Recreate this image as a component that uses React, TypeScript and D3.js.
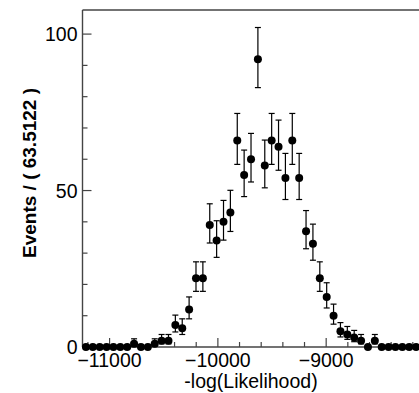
import React from "react";
import * as d3 from "d3";

const binLow = -11250;
const binWidth = 63.5122;
const counts = [
  0, 0, 0, 0, 0, 0, 0, 1, 0, 0,
  1, 2, 2, 7, 6, 12, 22, 22, 39, 34,
  40, 43, 66, 55, 60, 92, 58, 66, 64, 54,
  66, 54, 37, 33, 22, 16, 10, 5, 4, 3,
  2, 0, 2, 0, 0, 0, 0, 0, 0, 0,
];
const xMajorTicks = [-11000, -10000, -9000];
const yMajorTicks = [0, 50, 100];
const yMax = 107.7;
const xTitle = "-log(Likelihood)";
const yTitle = "Events / ( 63.5122 )";

const W = 419;
const H = 393;
const left = 82.5;
const top = 10;
const bottom = 347;
const pxPerUnit = 0.1083;

export default function App() {
  const xmax = binLow + counts.length * binWidth;
  const x = d3.scaleLinear().domain([binLow, xmax]).range([left, left + (xmax - binLow) * pxPerUnit]);
  const y = d3.scaleLinear().domain([0, yMax]).range([bottom, top]);
  const font = "'Liberation Sans', Arial, Helvetica, sans-serif";
  const axisColor = "#444";

  const xMinor = d3.range(-11200, xmax, 200).filter((v) => !xMajorTicks.includes(v));
  const yMinor = d3.range(10, yMax, 10).filter((v) => !yMajorTicks.includes(v));

  const pts = counts.map((n, i) => {
    const cx = x(binLow + (i + 0.5) * binWidth);
    const lo = n > 0 ? n - (Math.sqrt(n + 0.25) - 0.5) : 0;
    const hi = n > 0 ? n + Math.sqrt(n + 0.25) + 0.5 : 0;
    return { cx, n, lo, hi };
  });

  return (
    <svg width={W} height={H} style={{ position: "absolute", left: 0, top: 0, background: "#fff" }}>
      <rect x={0} y={0} width={W} height={H} fill="#fff" />
      <line x1={left} x2={W + 5} y1={top} y2={top} stroke={axisColor} strokeWidth={1.4} />
      <line x1={left} x2={left} y1={top} y2={bottom} stroke={axisColor} strokeWidth={1.4} />
      <line x1={left} x2={W + 5} y1={bottom} y2={bottom} stroke={axisColor} strokeWidth={1.4} />
      {yMajorTicks.map((v) => (
        <g key={"ym" + v}>
          <line x1={left} x2={left + 9} y1={y(v)} y2={y(v)} stroke={axisColor} strokeWidth={1.2} />
          <text x={left - 5} y={y(v)} dy="0.36em" textAnchor="end" fontFamily={font} fontSize={19.5} fill="#000">
            {v}
          </text>
        </g>
      ))}
      {yMinor.map((v) => (
        <line key={"yn" + v} x1={left} x2={left + 5} y1={y(v)} y2={y(v)} stroke={axisColor} strokeWidth={1.2} />
      ))}
      {xMajorTicks.map((v) => (
        <g key={"xm" + v}>
          <line x1={x(v)} x2={x(v)} y1={bottom} y2={bottom - 9} stroke={axisColor} strokeWidth={1.2} />
          <text x={x(v)} y={366.5} textAnchor="middle" fontFamily={font} fontSize={19.5} fill="#000">
            {"\u2212" + Math.abs(v)}
          </text>
        </g>
      ))}
      {xMinor.map((v) => (
        <line key={"xn" + v} x1={x(v)} x2={x(v)} y1={bottom} y2={bottom - 5} stroke={axisColor} strokeWidth={1.2} />
      ))}
      <text x={251} y={388} textAnchor="middle" fontFamily={font} fontSize={19.5} fill="#000">
        {xTitle}
      </text>
      <text
        transform={`translate(36,173) rotate(-90)`}
        textAnchor="middle"
        fontFamily={font}
        fontSize={19}
        fontWeight="bold"
        fill="#000"
      >
        {yTitle}
      </text>
      {pts.map((p, i) =>
        p.n > 0 ? (
          <g key={"e" + i} stroke="#000" strokeWidth={1.2}>
            <line x1={p.cx} x2={p.cx} y1={y(p.lo)} y2={y(p.hi)} />
            <line x1={p.cx - 3} x2={p.cx + 3} y1={y(p.hi)} y2={y(p.hi)} />
            <line x1={p.cx - 3} x2={p.cx + 3} y1={y(p.lo)} y2={y(p.lo)} />
          </g>
        ) : null
      )}
      {pts.map((p, i) => (
        <circle key={"m" + i} cx={p.cx} cy={y(p.n)} r={4} fill="#000" />
      ))}
    </svg>
  );
}
